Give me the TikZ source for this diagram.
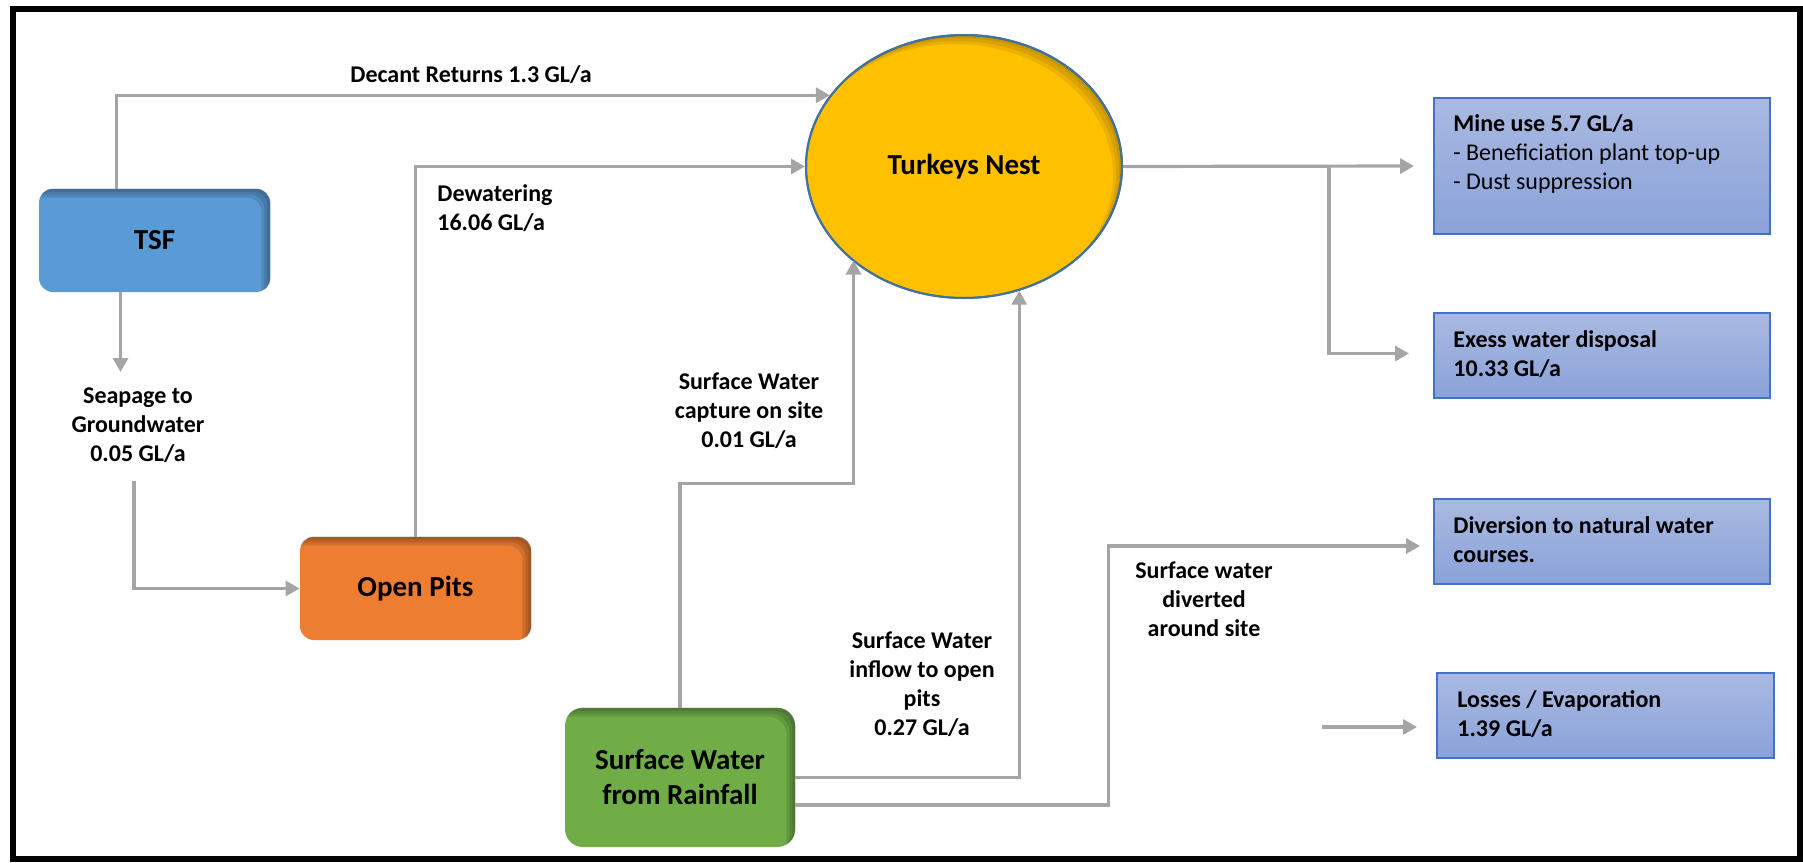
\documentclass[tikz,border=0pt]{standalone}
\usepackage{fontspec}
\setmainfont{Carlito}
\usetikzlibrary{shapes.geometric,arrows.meta}
\definecolor{tsfB}{HTML}{5B9BD5}
\definecolor{pitO}{HTML}{ED7D31}
\definecolor{rainG}{HTML}{70AD47}
\definecolor{nestY}{HTML}{FFC000}
\definecolor{nestLine}{HTML}{41719C}
\definecolor{boxTop}{HTML}{A9B9E1}
\definecolor{boxBot}{HTML}{8AA2D9}
\definecolor{boxLine}{HTML}{4472C4}
\definecolor{flowG}{HTML}{A5A5A5}
\tikzset{
 flow/.style={draw=flowG, line width=1.6pt, -{Triangle[length=7pt,width=7.5pt]}},
 srcbox/.style={rounded corners=#1, minimum width=115.5pt, minimum height=51.5pt, inner sep=0pt, font=\fontsize{14.5}{17.5}\selectfont\bfseries, align=center},
 srcbox/.default=7pt,
 outbox/.style={draw=boxLine, line width=1pt, top color=boxTop, bottom color=boxBot, minimum width=168pt, inner sep=0pt},
 lbl/.style={font=\fontsize{12}{14.5}\selectfont\bfseries, align=center, inner sep=0pt},
 boxtxt/.style={font=\fontsize{12}{14.5}\selectfont, align=left, anchor=north west, inner sep=0pt},
}
\newcommand{\innershade}[2]{%
 \begin{scope}
 \clip[rounded corners=#2] (#1.south west) rectangle (#1.north east);
 \foreach \s in {1.5,3,4.5}{
  \fill[black, opacity=0.11, even odd rule] ([shift={(-30pt,-30pt)}]#1.south west) rectangle ([shift={(30pt,30pt)}]#1.north east) [rounded corners=#2] ([shift={(-\s pt,-\s pt)}]#1.south west) rectangle ([shift={(-\s pt,-\s pt)}]#1.north east);
 }
 \end{scope}}
\begin{document}
\begin{tikzpicture}[x=0.5pt,y=-0.5pt]
\useasboundingbox (0,0) rectangle (1803,862);
\draw[line width=3pt] (13,9) rectangle (1799.5,859);

% source nodes
\node[srcbox, fill=tsfB] (tsf) at (154.5,240.5) {TSF};
\innershade{tsf}{7pt}
\node[srcbox, fill=pitO] (pits) at (415.5,588.5) {Open Pits};
\innershade{pits}{7pt}
\node[srcbox=9pt, fill=rainG, minimum width=115pt, minimum height=69.5pt] (rain) at (680,777.5) {Surface Water\\from Rainfall};
\innershade{rain}{9pt}

% turkeys nest
\node[ellipse, fill=nestY, draw=nestLine, line width=1pt, minimum width=158pt, minimum height=131.5pt, inner sep=0pt, font=\fontsize{14.5}{17.5}\selectfont\bfseries] (nest) at (964,166.5) {Turkeys Nest};
\begin{scope}
 \clip (nest.center) ellipse [x radius=79pt, y radius=65.75pt];
 \foreach \s in {1.5,3,4.5}{
  \fill[black, opacity=0.08, even odd rule] (nest.center) ellipse [x radius=100pt, y radius=90pt] ([shift={(-\s pt,-\s pt)}]nest.center) ellipse [x radius=79pt, y radius=65.75pt];
 }
\end{scope}
\draw[nestLine, line width=1pt] (nest.center) ellipse [x radius=79pt, y radius=65.75pt];

% output boxes
\node[outbox, minimum height=68pt] (mine) at (1602,166) {};
\node[outbox, minimum height=42.5pt] (exc) at (1602,355.5) {};
\node[outbox, minimum height=42.5pt] (div) at (1602,541.5) {};
\node[outbox, minimum height=42.5pt, minimum width=168.5pt] (loss) at (1605.5,715.5) {};
\node[boxtxt] (mineT) at (1453,114) {\textbf{Mine use 5.7 GL/a}\\- Beneficiation plant top-up\\- Dust suppression};
\node[boxtxt, font=\fontsize{12}{14.5}\selectfont\bfseries] (excT) at (1453,330) {Exess water disposal\\10.33 GL/a};
\node[boxtxt, font=\fontsize{12}{14.5}\selectfont\bfseries] (divT) at (1453,516) {Diversion to natural water\\courses.};
\node[boxtxt, font=\fontsize{12}{14.5}\selectfont\bfseries] (lossT) at (1457,690) {Losses / Evaporation\\1.39 GL/a};

% labels
\node[lbl] (decantL) at (471,75) {Decant Returns 1.3 GL/a};
\node[lbl, align=left, anchor=north west] (dewL) at (437,184) {Dewatering\\ 16.06 GL/a};
\node[lbl] (seepL) at (138,425) {Seapage to\\Groundwater\\0.05 GL/a};
\node[lbl] (capL) at (749,411) {Surface Water\\capture on site\\0.01 GL/a};
\node[lbl] (inflL) at (922,684) {Surface Water\\inflow to open\\pits\\0.27 GL/a};
\node[lbl] (divL) at (1204,599) {Surface water\\diverted\\around site};

% connectors
\coordinate (decX) at (116.5,0);
\draw[flow] (tsf.north -| decX) |- (nest.152);
\draw[flow] (pits.north) |- (nest);
\coordinate (seepEnd) at (120.5,372);
\draw[flow] (tsf.south -| seepEnd) -- (seepEnd);
\coordinate (seepStart) at (134,481);
\draw[flow] (seepStart) |- (pits.west);
\coordinate (capC) at (853.5,483.5);
\draw[flow] (rain.north) |- (capC) -- (capC |- nest.220);
\draw[flow] (rain.east) -| (nest.294);
\coordinate (divC) at (1108.5,546);
\draw[flow] ([yshift=-13.75pt]rain.east) -| (divC) -- ([xshift=-6.5pt]div.west |- divC);
\coordinate (branch) at (1329,166.5);
\draw[flow] (nest.east) -- ([xshift=-9.5pt]mine.west);
\draw[flow] (branch) |- ([xshift=-12pt,yshift=1pt]exc.west);
\coordinate (lossStart) at (1322,727);
\draw[flow] (lossStart) -- ([xshift=-9.5pt]loss.west |- lossStart);
\end{tikzpicture}
\end{document}
